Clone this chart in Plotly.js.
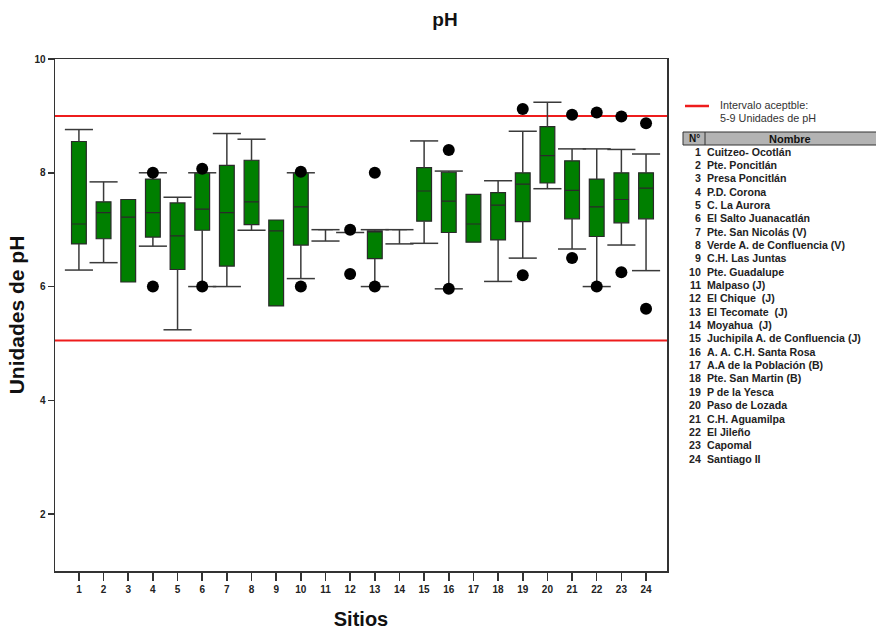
<!DOCTYPE html>
<html>
<head>
<meta charset="utf-8">
<script src="https://cdn.plot.ly/plotly-3.0.1.min.js"></script>
<style>html,body{margin:0;padding:0;background:#fff;}#chart{width:876px;height:630px;}</style>
</head>
<body>
<div id="chart"></div>
<script>
const sites = [1,2,3,4,5,6,7,8,9,10,11,12,13,14,15,16,17,18,19,20,21,22,23,24];
const q1     = [6.75,6.84,6.08,6.87,6.30,6.99,6.36,7.09,5.66,6.73,7.00,6.95,6.49,7.00,7.15,6.95,6.78,6.82,7.14,7.82,7.19,6.88,7.12,7.19];
const medians= [7.10,7.30,7.22,7.30,6.89,7.36,7.30,7.49,6.98,7.40,7.00,6.95,6.98,7.00,7.68,7.50,7.10,7.43,7.80,8.30,7.69,7.40,7.53,7.73];
const q3     = [8.55,7.49,7.53,7.89,7.47,8.00,8.13,8.22,7.17,8.00,7.00,6.95,6.98,7.00,8.09,8.01,7.62,7.65,8.00,8.81,8.21,7.89,8.00,8.00];
const whiskerLow  = [6.29,6.42,null,6.71,5.24,6.00,6.00,6.99,null,6.14,6.80,null,6.00,6.75,6.76,5.96,null,6.09,6.50,7.72,6.66,6.00,6.73,6.28];
const whiskerHigh = [8.76,7.84,null,8.00,7.57,8.00,8.69,8.59,null,8.00,7.00,6.95,7.00,7.00,8.56,8.03,null,7.86,8.73,9.24,8.42,8.42,8.41,8.33];
const outlierSite  = [4,4,6,6,10,10,12,12,13,13,16,16,19,19,21,21,22,22,23,23,24,24];
const outlierValue = [8.00,6.00,8.07,6.00,8.02,6.00,7.00,6.22,8.00,6.00,8.40,5.96,9.12,6.20,9.02,6.50,9.06,6.00,8.99,6.25,8.87,5.61];
const limits = [9.0, 5.05];
const siteNames = ["Cuitzeo- Ocotlán","Pte. Poncitlán","Presa Poncitlán","P.D. Corona","C. La Aurora","El Salto Juanacatlán","Pte. San Nicolás (V)","Verde A. de Confluencia (V)","C.H. Las Juntas","Pte. Guadalupe","Malpaso (J)","El Chique  (J)","El Tecomate  (J)","Moyahua  (J)","Juchipila A. de Confluencia (J)","A. A. C.H. Santa Rosa","A.A de la Población (B)","Pte. San Martin (B)","P de la Yesca","Paso de Lozada","C.H. Aguamilpa","El Jileño","Capomal","Santiago II"];

const FONT = "Arial, 'Liberation Sans', sans-serif";
const capHalf = 0.57;

// whisker segments built from the data arrays
const wx = [], wy = [];
sites.forEach((s, i) => {
  if (whiskerHigh[i] !== null) {
    wx.push(s, s, null, s - capHalf, s + capHalf, null);
    wy.push(q3[i], whiskerHigh[i], null, whiskerHigh[i], whiskerHigh[i], null);
  }
  if (whiskerLow[i] !== null) {
    wx.push(s, s, null, s - capHalf, s + capHalf, null);
    wy.push(q1[i], whiskerLow[i], null, whiskerLow[i], whiskerLow[i], null);
  }
});

const traces = [
  {
    type: 'box', x: sites, q1: q1, median: medians, q3: q3,
    lowerfence: q1, upperfence: q3, width: 0.6, whiskerwidth: 0,
    boxpoints: false, fillcolor: '#007f00',
    line: {color: '#2a2a2a', width: 1.2}, showlegend: false, hoverinfo: 'skip'
  },
  {
    type: 'scatter', mode: 'lines', x: wx, y: wy, connectgaps: false,
    line: {color: '#3a3a3a', width: 1.5}, showlegend: false, hoverinfo: 'skip'
  },
  {
    type: 'scatter', mode: 'markers', x: outlierSite, y: outlierValue,
    marker: {color: '#000', size: 12}, showlegend: false, hoverinfo: 'skip'
  }
];

// layout helpers (pixel -> paper)
const L = 55, R = 667, T = 59, B = 571;
const px = v => (v - L) / (R - L);
const py = v => (B - v) / (B - T);

const shapes = limits.map(v => ({
  type: 'line', xref: 'paper', yref: 'y', x0: 0, x1: 1, y0: v, y1: v,
  line: {color: '#ee1c1c', width: 2}, layer: 'below'
}));
shapes.push({type: 'line', xref: 'paper', yref: 'paper', x0: px(685), x1: px(709), y0: py(106), y1: py(106), line: {color: '#ee1c1c', width: 2.5}});
shapes.push({type: 'rect', xref: 'paper', yref: 'paper', x0: px(683), x1: px(877), y0: py(145), y1: py(132), fillcolor: '#b3b3b3', line: {color: '#333', width: 1}});
shapes.push({type: 'line', xref: 'paper', yref: 'paper', x0: px(705), x1: px(705), y0: py(145), y1: py(132), line: {color: '#333', width: 1}});

const annotations = [
  {xref: 'paper', yref: 'paper', x: px(718), y: py(105), xanchor: 'left', yanchor: 'middle', showarrow: false,
   text: 'Intervalo aceptble:', font: {family: FONT, size: 10.8, color: '#333'}},
  {xref: 'paper', yref: 'paper', x: px(718), y: py(118), xanchor: 'left', yanchor: 'middle', showarrow: false,
   text: '5-9 Unidades de pH', font: {family: FONT, size: 10.8, color: '#333'}},
  {xref: 'paper', yref: 'paper', x: px(694), y: py(138.5), xanchor: 'center', yanchor: 'middle', showarrow: false,
   text: '<b>N°</b>', font: {family: FONT, size: 10, color: '#111'}},
  {xref: 'paper', yref: 'paper', x: px(790), y: py(138.5), xanchor: 'center', yanchor: 'middle', showarrow: false,
   text: '<b>Nombre</b>', font: {family: FONT, size: 11, color: '#111'}}
];
sites.forEach((s, i) => {
  const yy = 151.5 + i * 13.35;
  annotations.push({xref: 'paper', yref: 'paper', x: px(703), y: py(yy), xanchor: 'right', yanchor: 'middle', showarrow: false,
    text: '<b>' + s + '</b>', font: {family: FONT, size: 10.6, color: '#222'}});
  annotations.push({xref: 'paper', yref: 'paper', x: px(705), y: py(yy), xanchor: 'left', yanchor: 'middle', showarrow: false,
    text: '<b>' + siteNames[i] + '</b>', font: {family: FONT, size: 10.6, color: '#222'}});
});

const layout = {
  width: 876, height: 630,
  margin: {l: L, r: 876 - R, t: T, b: 630 - B, pad: 0},
  paper_bgcolor: '#fff', plot_bgcolor: '#fff',
  font: {family: FONT, color: '#222'},
  title: {text: '<b>pH</b>', x: 0.508, xref: 'container', y: 0.97, yref: 'container', yanchor: 'middle',
          font: {family: FONT, size: 19, color: '#111'}},
  xaxis: {
    range: [0.03, 24.85], tickvals: sites, ticktext: sites.map(String),
    ticks: 'outside', ticklen: 8, tickwidth: 1.5, tickcolor: '#333',
    showline: true, mirror: true, linecolor: '#333', linewidth: 1.5,
    showgrid: false, zeroline: false,
    tickfont: {family: FONT, size: 10, weight: 'bold', color: '#222'},
    title: {text: '<b>Sitios</b>', standoff: 18, font: {family: FONT, size: 20, color: '#111'}}
  },
  yaxis: {
    range: [1, 10], tickvals: [2, 4, 6, 8, 10],
    ticks: 'outside', ticklen: 6, tickwidth: 1.5, tickcolor: '#333',
    showline: true, mirror: true, linecolor: '#333', linewidth: 1.5,
    showgrid: false, zeroline: false,
    tickfont: {family: FONT, size: 10, weight: 'bold', color: '#222'},
    title: {text: '<b>Unidades de pH</b>', standoff: 4, font: {family: FONT, size: 21, color: '#111'}}
  },
  shapes: shapes,
  annotations: annotations,
  showlegend: false
};

Plotly.newPlot('chart', traces, layout, {staticPlot: true, displayModeBar: false});
</script>
</body>
</html>
